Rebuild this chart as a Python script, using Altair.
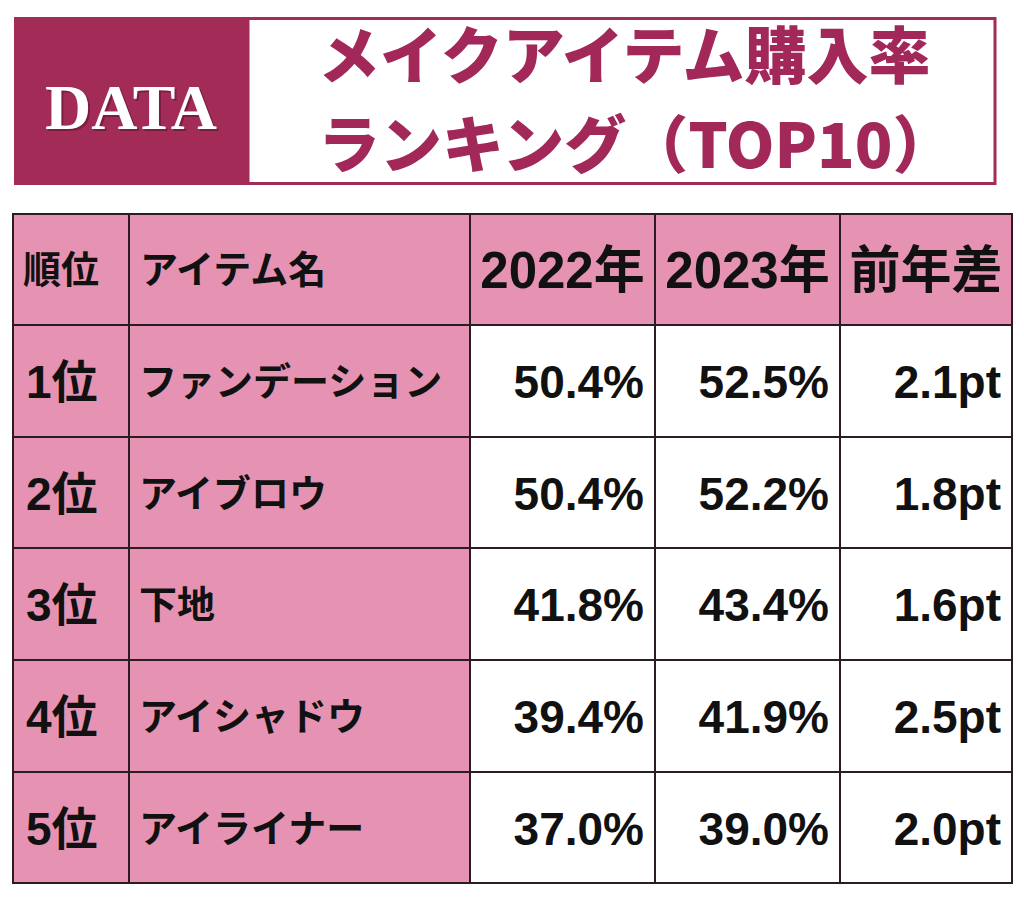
import altair as alt
import pandas as pd

# ---- data ----
headers = ["順位", "アイテム名", "2022年", "2023年", "前年差"]
ranks = ["1位", "2位", "3位", "4位", "5位"]
items = ["ファンデーション", "アイブロウ", "下地", "アイシャドウ", "アイライナー"]
rate_2022 = [50.4, 50.4, 41.8, 39.4, 37.0]
rate_2023 = [52.5, 52.2, 43.4, 41.9, 39.0]
diff_pt = [2.1, 1.8, 1.6, 2.5, 2.0]
title_lines = ["メイクアイテム購入率", "ランキング（TOP10）"]
badge = ["DATA"]

# ---- layout ----
W, H = 1008, 887
col_edges = [13, 129, 470, 655, 840, 1012]
row_edges = [214, 325, 437, 548, 660, 772, 883]
PINK = "#e693b3"
MAGENTA = "#a22c57"
LINE = "#2b1b22"
JP = "Noto Sans CJK JP"
LAT = "Liberation Sans, Noto Sans CJK JP"

XS = alt.Scale(domain=[8, 8 + W], nice=False, zero=False)
YS = alt.Scale(domain=[8, 8 + H], reverse=True, nice=False, zero=False)


def xq(f):
    return alt.X(f"{f}:Q", scale=XS, axis=None)


def yq(f):
    return alt.Y(f"{f}:Q", scale=YS, axis=None)


# table cells
cells = []
for r in range(len(row_edges) - 1):
    for c in range(len(col_edges) - 1):
        cells.append({
            "x0": col_edges[c], "x1": col_edges[c + 1],
            "y0": row_edges[r], "y1": row_edges[r + 1],
            "fill": PINK if (r == 0 or c < 2) else "#ffffff",
        })
cells_df = pd.DataFrame(cells)

cell_layer = alt.Chart(cells_df).mark_rect(stroke=LINE, strokeWidth=2).encode(
    x=xq("x0"), x2="x1", y=yq("y0"), y2="y1",
    color=alt.Color("fill:N", scale=None),
)


def mid(i):
    return (row_edges[i] + row_edges[i + 1]) / 2


# header texts
hdr_left = pd.DataFrame({
    "x": [col_edges[0] + 10, col_edges[1] + 11],
    "y": [mid(0) + 2] * 2,
    "t": headers[:2],
})
hdr_center = pd.DataFrame({
    "x": [(col_edges[c] + col_edges[c + 1]) / 2 for c in range(2, 5)],
    "y": [mid(0) + 3] * 3,
    "t": headers[2:],
})
rank_df = pd.DataFrame({
    "x": [col_edges[0] + 13] * 5,
    "y": [mid(i + 1) + 3 for i in range(5)],
    "t": ranks,
})
item_df = pd.DataFrame({
    "x": [col_edges[1] + 10] * 5,
    "y": [mid(i + 1) + 3 for i in range(5)],
    "t": items,
})
vals = []
for i in range(5):
    for c, txt in ((2, f"{rate_2022[i]:.1f}%"), (3, f"{rate_2023[i]:.1f}%"), (4, f"{diff_pt[i]:.1f}pt")):
        vals.append({"x": col_edges[c + 1] - 11, "y": mid(i + 1) + 3, "t": txt})
val_df = pd.DataFrame(vals)


def text_layer(df, align, size, font, color="#111111", weight="bold"):
    return alt.Chart(df).mark_text(
        align=align, baseline="middle", fontSize=size, font=font,
        fontWeight=weight, color=color,
    ).encode(x=xq("x"), y=yq("y"), text="t:N")


# header banner
badge_box = pd.DataFrame({"x0": [14], "x1": [247], "y0": [17], "y1": [185]})
title_box = pd.DataFrame({"x0": [248], "x1": [995], "y0": [18.5], "y1": [183.5]})
badge_layer = alt.Chart(badge_box).mark_rect(color=MAGENTA).encode(
    x=xq("x0"), x2="x1", y=yq("y0"), y2="y1")
title_box_layer = alt.Chart(title_box).mark_rect(
    fill="#ffffff", stroke=MAGENTA, strokeWidth=3).encode(
    x=xq("x0"), x2="x1", y=yq("y0"), y2="y1")

badge_df = pd.DataFrame({"x": [131], "y": [110], "t": badge})
badge_shadow = alt.Chart(badge_df).mark_text(
    align="center", baseline="middle", fontSize=64, font="Liberation Serif",
    fontWeight="bold", color="#7a1d40", dx=2, dy=2,
).encode(x=xq("x"), y=yq("y"), text="t:N")
badge_text = text_layer(badge_df, "center", 64, "Liberation Serif", color="#ffffff")

title_df = pd.DataFrame({"x": [318, 318], "y": [60, 149], "t": title_lines})
title_text = text_layer(title_df, "left", 62, JP, color="#a3285a", weight=900)

chart = alt.layer(
    badge_layer, title_box_layer, badge_shadow, badge_text, title_text,
    cell_layer,
    text_layer(hdr_left, "left", 38, JP),
    text_layer(hdr_center, "center", 51, LAT),
    text_layer(rank_df, "left", 46, LAT),
    text_layer(item_df, "left", 38, JP),
    text_layer(val_df, "right", 46, LAT),
).properties(
    width=W, height=H, padding=0, background="#ffffff"
).configure_view(stroke=None)

chart.save("out.html", embed_options={"renderer": "svg", "actions": False})
